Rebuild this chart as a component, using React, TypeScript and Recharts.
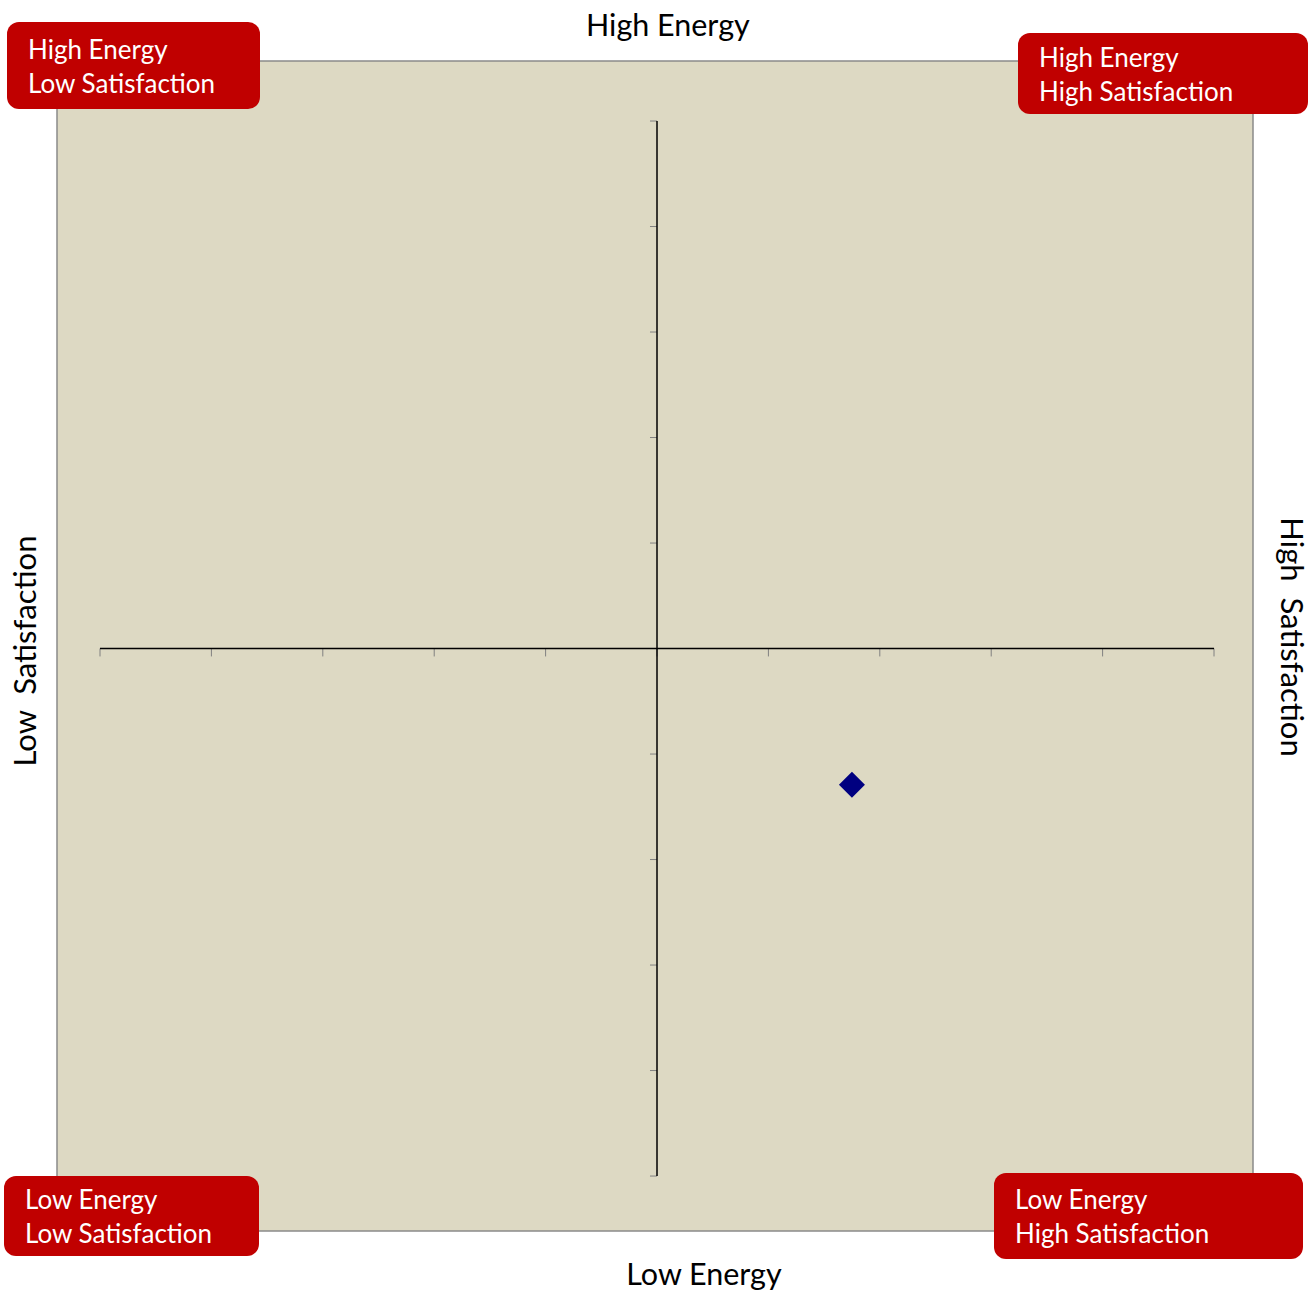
import React from 'react'
import { ScatterChart, Scatter, XAxis, YAxis, ReferenceArea, ReferenceLine } from 'recharts'

// satisfaction on x, energy on y
const points = [{ satisfaction: 1.75, energy: -1.29 }]
const xTicks = [-5, -4, -3, -2, -1, 0, 1, 2, 3, 4, 5]
const yTicks = [-5, -4, -3, -2, -1, 0, 1, 2, 3, 4, 5]
const xDomain: [number, number] = [-5.386, 5.35]
const yDomain: [number, number] = [-5.521, 5.569]

const FONT = 'Lato, "Liberation Sans", sans-serif'

const quadrants = [
  { lines: ['High Energy', 'Low Satisfaction'], left: 7, top: 22, width: 253, height: 87, padL: 21 },
  { lines: ['High Energy', 'High Satisfaction'], left: 1018, top: 33, width: 290, height: 81, padL: 21 },
  { lines: ['Low Energy', 'Low Satisfaction'], left: 4, top: 1176, width: 255, height: 80, padL: 21 },
  { lines: ['Low Energy', 'High Satisfaction'], left: 994, top: 1173, width: 309, height: 86, padL: 21 },
]

const Diamond = (props: any) => {
  const { cx, cy } = props
  const r = 13
  return <path d={`M${cx},${cy - r}L${cx + r},${cy}L${cx},${cy + r}L${cx - r},${cy}Z`} fill="#000080" />
}

export default function App() {
  return (
    <div style={{ position: 'absolute', left: 0, top: 0, width: 1311, height: 1291, background: '#fff', fontFamily: FONT }}>
      <ScatterChart width={1311} height={1291} margin={{ top: 61, right: 58, bottom: 60, left: 57 }}>
        <XAxis type="number" dataKey="satisfaction" domain={xDomain} allowDataOverflow hide />
        <YAxis type="number" dataKey="energy" domain={yDomain} allowDataOverflow hide />
        <ReferenceArea
          x1={xDomain[0]}
          x2={xDomain[1]}
          y1={yDomain[0]}
          y2={yDomain[1]}
          fill="#DDD9C3"
          fillOpacity={1}
          stroke="#8a8a8a"
          strokeWidth={1.5}
        />
        {xTicks.map((t) => (
          <ReferenceLine
            key={'xt' + t}
            segment={[{ x: t, y: 0 }, { x: t, y: -0.075 }]}
            stroke="#808080"
            strokeWidth={1}
          />
        ))}
        {yTicks.map((t) => (
          <ReferenceLine
            key={'yt' + t}
            segment={[{ x: 0, y: t }, { x: -0.063, y: t }]}
            stroke="#808080"
            strokeWidth={1}
          />
        ))}
        <ReferenceLine segment={[{ x: xTicks[0], y: 0 }, { x: xTicks[xTicks.length - 1], y: 0 }]} stroke="#000" strokeWidth={1.5} />
        <ReferenceLine segment={[{ x: 0, y: yTicks[0] }, { x: 0, y: yTicks[yTicks.length - 1] }]} stroke="#000" strokeWidth={1.5} />
        <Scatter data={points} shape={<Diamond />} isAnimationActive={false} />
      </ScatterChart>

      <div style={{ position: 'absolute', left: 586, top: 4, width: 162, textAlign: 'center', fontSize: 30.5, color: '#000', lineHeight: '40px', whiteSpace: 'nowrap' }}>
        High Energy
      </div>
      <div style={{ position: 'absolute', left: 624, top: 1253, width: 160, textAlign: 'center', fontSize: 30.5, color: '#000', lineHeight: '40px', whiteSpace: 'nowrap' }}>
        Low Energy
      </div>
      <div
        style={{
          position: 'absolute',
          left: 24 - 150,
          top: 651 - 20,
          width: 300,
          textAlign: 'center',
          fontSize: 31,
          lineHeight: '40px',
          whiteSpace: 'pre',
          transform: 'rotate(-90deg)',
        }}
      >
        {'Low  Satisfaction'}
      </div>
      <div
        style={{
          position: 'absolute',
          left: 1293 - 150,
          top: 637 - 20,
          width: 300,
          textAlign: 'center',
          fontSize: 31,
          lineHeight: '40px',
          whiteSpace: 'pre',
          transform: 'rotate(90deg)',
        }}
      >
        {'High  Satisfaction'}
      </div>

      {quadrants.map((q) => (
        <div
          key={q.lines.join('-')}
          style={{
            position: 'absolute',
            left: q.left,
            top: q.top,
            width: q.width,
            height: q.height,
            boxSizing: 'border-box',
            background: '#C00000',
            borderRadius: 12,
            color: '#fff',
            fontSize: 26,
            lineHeight: '34px',
            paddingLeft: q.padL,
            paddingTop: (q.height - 68) / 2,
            whiteSpace: 'nowrap',
          }}
        >
          {q.lines.map((l) => (
            <div key={l}>{l}</div>
          ))}
        </div>
      ))}
    </div>
  )
}
